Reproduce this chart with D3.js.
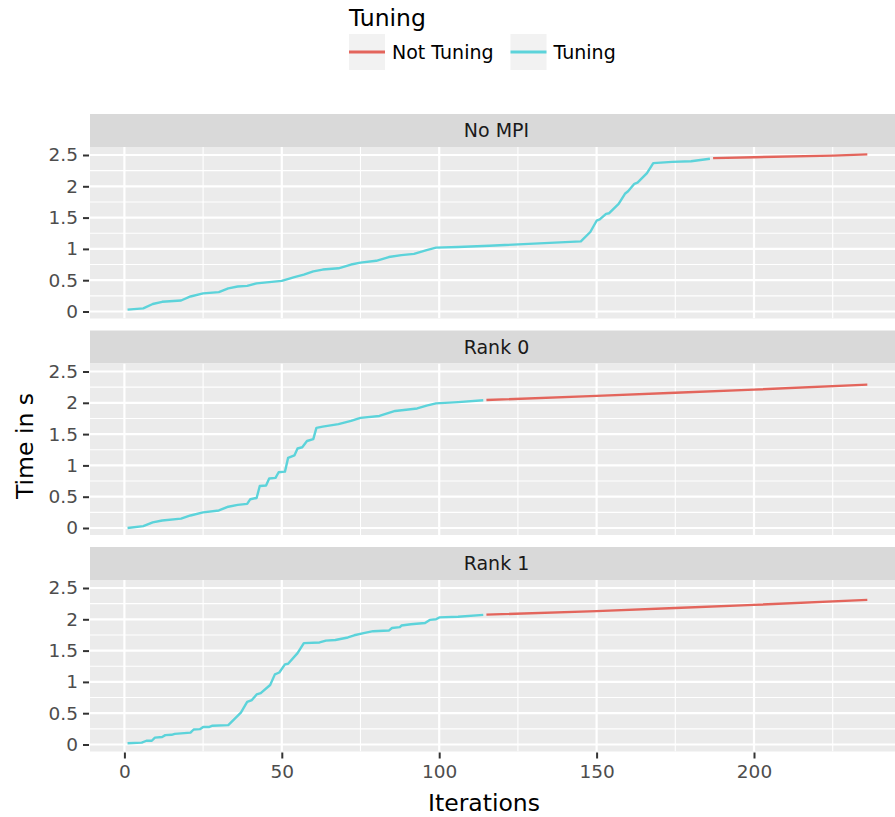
<!DOCTYPE html>
<html>
<head>
<meta charset="utf-8">
<script src="https://cdn.jsdelivr.net/npm/d3@7"></script>
<style>
  body { margin: 0; background: #fff; }
  svg { display: block; font-family: "DejaVu Sans", sans-serif; }
</style>
</head>
<body>
<div id="chart"></div>
<script>
// facet names and the legend levels
const facets = ["No MPI", "Rank 0", "Rank 1"];
const levels = ["Not Tuning", "Tuning"];
const xTicks = [0, 50, 100, 150, 200];
const yTicks = [0, 0.5, 1, 1.5, 2, 2.5];
const yTickLabels = ["0", "0.5", "1", "1.5", "2", "2.5"];

// [iteration, time in s]
const noMpiTuning = [[1,0.03],[6,0.05],[9,0.12],[12,0.155],[18,0.176],[21,0.24],[25,0.29],[30,0.31],[33,0.37],[36,0.40],[39,0.41],[42,0.45],[50,0.49],[54,0.55],[57,0.59],[60,0.64],[63,0.67],[68,0.69],[72,0.75],[75,0.78],[80,0.81],[84,0.87],[88,0.90],[92,0.92],[96,0.98],[99,1.02],[106,1.03],[116,1.05],[145,1.12],[148,1.27],[150,1.45],[151,1.47],[153,1.56],[154,1.57],[157,1.72],[159,1.88],[160,1.92],[162,2.04],[163,2.06],[166,2.21],[168,2.37],[174,2.39],[180,2.40],[186,2.44]];
const noMpiNot = [[187,2.45],[200,2.465],[225,2.49],[236,2.51]];

const rank0Tuning = [[1,0],[6,0.03],[9,0.09],[12,0.12],[18,0.15],[21,0.20],[25,0.25],[30,0.28],[33,0.34],[36,0.37],[39,0.385],[40,0.46],[42,0.48],[43,0.67],[45,0.68],[46,0.79],[48,0.80],[49,0.89],[51,0.90],[52,1.12],[54,1.16],[55,1.27],[56.5,1.29],[58,1.39],[60,1.42],[61,1.60],[63,1.62],[68,1.66],[72,1.71],[75,1.76],[81,1.79],[84,1.84],[86,1.87],[93,1.91],[96,1.955],[99,1.99],[106,2.01],[114,2.04]];
const rank0Not = [[115,2.045],[150,2.11],[175,2.16],[200,2.21],[236,2.29]];

const rank1Tuning = [[1,0.02],[5.5,0.03],[7,0.06],[8.7,0.06],[9.7,0.11],[12,0.12],[13,0.15],[15,0.155],[16,0.17],[21,0.19],[22,0.24],[24,0.245],[25,0.28],[27,0.28],[28,0.30],[33,0.31],[37,0.51],[39,0.68],[40.5,0.71],[42,0.80],[43.3,0.82],[46.3,0.95],[47.8,1.12],[49.2,1.15],[51,1.28],[52,1.29],[55,1.46],[57,1.62],[62,1.63],[64,1.66],[67,1.67],[71,1.71],[73,1.745],[76,1.78],[79,1.81],[84,1.82],[85,1.86],[87.5,1.875],[88,1.90],[91,1.92],[95.5,1.94],[97,1.99],[99,2.00],[100,2.03],[106,2.04],[114,2.07]];
const rank1Not = [[115,2.075],[150,2.13],[175,2.18],[200,2.23],[236,2.31]];

const tuningSeries = [noMpiTuning, rank0Tuning, rank1Tuning];
const notTuningSeries = [noMpiNot, rank0Not, rank1Not];

const colors = { "Not Tuning": "#E3655C", "Tuning": "#5CD3DA" };

const width = 895, height = 817;
const panelLeft = 90, panelRight = 895;
const panelTops = [147, 363.5, 580];
const panelH = 171.5, stripH = 33;

const svg = d3.select("#chart").append("svg")
    .attr("width", width)
    .attr("height", height);

const x = d3.scaleLinear().domain([0, 200]).range([124.4, 754]);
const xMinor = [25, 75, 125, 175, 225];
const yMinor = [0.25, 0.75, 1.25, 1.75, 2.25];

const defs = svg.append("defs");

facets.forEach((name, i) => {
    const top = panelTops[i];
    const y = d3.scaleLinear().domain([0, 2.5]).range([top + 164.5, top + 8]);

    defs.append("clipPath").attr("id", "clip" + i)
        .append("rect")
        .attr("x", panelLeft).attr("y", top)
        .attr("width", panelRight - panelLeft).attr("height", panelH);

    // strip
    svg.append("rect")
        .attr("x", panelLeft).attr("y", top - stripH)
        .attr("width", panelRight - panelLeft).attr("height", stripH)
        .attr("fill", "#D9D9D9");
    svg.append("text")
        .attr("x", (panelLeft + panelRight) / 2 + 4)
        .attr("y", top - stripH / 2)
        .attr("dy", "0.36em")
        .attr("text-anchor", "middle")
        .attr("font-size", "19px")
        .attr("fill", "#1A1A1A")
        .text(name);

    // panel background
    svg.append("rect")
        .attr("x", panelLeft).attr("y", top)
        .attr("width", panelRight - panelLeft).attr("height", panelH)
        .attr("fill", "#EBEBEB");

    const inner = svg.append("g").attr("clip-path", `url(#clip${i})`);

    // minor grid
    inner.selectAll(".xminor").data(xMinor).enter().append("line")
        .attr("x1", d => x(d)).attr("x2", d => x(d))
        .attr("y1", top).attr("y2", top + panelH)
        .attr("stroke", "#fff").attr("stroke-width", 1.1);
    inner.selectAll(".yminor").data(yMinor).enter().append("line")
        .attr("x1", panelLeft).attr("x2", panelRight)
        .attr("y1", d => y(d)).attr("y2", d => y(d))
        .attr("stroke", "#fff").attr("stroke-width", 1.1);
    // major grid
    inner.selectAll(".xmajor").data(xTicks).enter().append("line")
        .attr("x1", d => x(d)).attr("x2", d => x(d))
        .attr("y1", top).attr("y2", top + panelH)
        .attr("stroke", "#fff").attr("stroke-width", 2.2);
    inner.selectAll(".ymajor").data(yTicks).enter().append("line")
        .attr("x1", panelLeft).attr("x2", panelRight)
        .attr("y1", d => y(d)).attr("y2", d => y(d))
        .attr("stroke", "#fff").attr("stroke-width", 2.2);

    const line = d3.line().x(d => x(d[0])).y(d => y(d[1]));
    inner.append("path").datum(tuningSeries[i])
        .attr("d", line).attr("fill", "none")
        .attr("stroke", colors["Tuning"]).attr("stroke-width", 2.4)
        .attr("stroke-linejoin", "round");
    inner.append("path").datum(notTuningSeries[i])
        .attr("d", line).attr("fill", "none")
        .attr("stroke", colors["Not Tuning"]).attr("stroke-width", 2.4)
        .attr("stroke-linejoin", "round");

    // y axis
    const yAxis = d3.axisLeft(y).tickValues(yTicks)
        .tickFormat((d, k) => yTickLabels[k]).tickSize(6).tickPadding(5);
    const ya = svg.append("g").attr("transform", `translate(${panelLeft - 1},0)`).call(yAxis);
    ya.select(".domain").remove();
    ya.selectAll(".tick line").attr("stroke", "#333").attr("stroke-width", 2);
    ya.selectAll(".tick text").attr("font-size", "18.5px").attr("fill", "#4D4D4D")
        .attr("font-family", "DejaVu Sans");

    if (i === facets.length - 1) {
        const xAxis = d3.axisBottom(x).tickValues(xTicks).tickSize(6).tickPadding(6);
        const xa = svg.append("g").attr("transform", `translate(0,${top + panelH + 1})`).call(xAxis);
        xa.select(".domain").remove();
        xa.selectAll(".tick line").attr("stroke", "#333").attr("stroke-width", 2);
        xa.selectAll(".tick text").attr("font-size", "18.5px").attr("fill", "#4D4D4D")
            .attr("font-family", "DejaVu Sans");
    }
});

// axis titles
svg.append("text")
    .attr("x", 484).attr("y", 811)
    .attr("text-anchor", "middle")
    .attr("font-size", "23.5px")
    .attr("fill", "#000")
    .text("Iterations");
svg.append("text")
    .attr("transform", "translate(33,446) rotate(-90)")
    .attr("text-anchor", "middle")
    .attr("font-size", "23.5px")
    .attr("fill", "#000")
    .text("Time in s");

// legend
const legend = svg.append("g");
legend.append("text")
    .attr("x", 349).attr("y", 26)
    .attr("font-size", "23.5px")
    .attr("fill", "#000")
    .text("Tuning");
const keyX = [349, 510.5];
levels.forEach((lv, k) => {
    legend.append("rect")
        .attr("x", keyX[k]).attr("y", 34)
        .attr("width", 36).attr("height", 36)
        .attr("fill", "#F2F2F2");
    legend.append("line")
        .attr("x1", keyX[k]).attr("x2", keyX[k] + 36)
        .attr("y1", 52).attr("y2", 52)
        .attr("stroke", colors[lv]).attr("stroke-width", 3);
    legend.append("text")
        .attr("x", keyX[k] + 43).attr("y", 52)
        .attr("dy", "0.36em")
        .attr("font-size", "19px")
        .attr("fill", "#000")
        .text(lv);
});
</script>
</body>
</html>
